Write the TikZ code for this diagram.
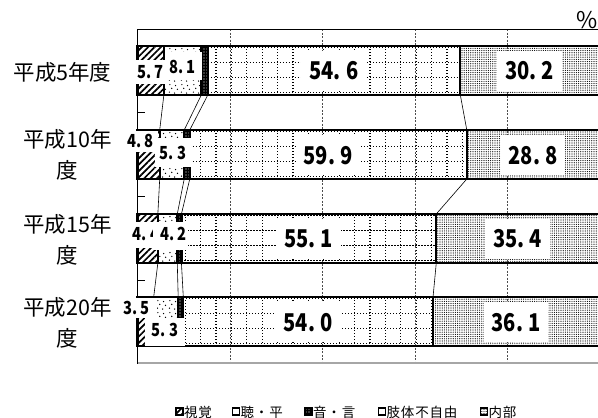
\documentclass[tikz,border=0pt]{standalone}
\usepackage{fontspec}
\setmainfont{Noto Sans CJK JP}
\newfontfamily\numfont[FakeStretch=0.82]{Noto Sans CJK JP}
\usetikzlibrary{patterns,patterns.meta}

\tikzdeclarepattern{
  name=sparsedots, type=uncolored,
  bottom left={(0pt,0pt)}, top right={(12pt,12pt)}, tile size={(12pt,12pt)},
  code={
    \fill (1.5pt,2pt) circle (0.75pt);
    \fill (7pt,1pt) circle (0.75pt);
    \fill (4pt,6pt) circle (0.75pt);
    \fill (10pt,5pt) circle (0.75pt);
    \fill (2pt,10pt) circle (0.75pt);
    \fill (8pt,9pt) circle (0.75pt);
  }
}

\newcommand\pd{\rlap{.}\hphantom{0}}

\tikzset{
  barline/.style={line width=2.2pt, draw=black},
  hatchfill/.style={pattern={Lines[angle=45,distance=4.5pt,line width=1.7pt]}},
  onfill/.style={pattern={Dots[radius=0.6pt,distance=3pt]}, pattern color=white},
  naibufill/.style={pattern={Dots[radius=0.6pt,distance=2.2pt]}},
  dotline/.style={line width=1.2pt, dash pattern=on 1.2pt off 1.8pt, black},
  conn/.style={line width=0.6pt, black},
  gridln/.style={gray!60!black, line width=0.8pt, dash pattern=on 2pt off 1.5pt},
  biglab/.style={fill=white, inner xsep=8pt, inner ysep=0pt, minimum height=40pt,
    text height=18pt, text depth=0pt, font=\numfont\bfseries\fontsize{24.5}{24.5}\selectfont},
  smalltxt/.style={inner sep=0pt, text height=13pt, text depth=0pt,
    font=\numfont\bfseries\fontsize{18}{18}\selectfont},
  catlab/.style={inner sep=0pt, align=center, font=\fontsize{21.5}{31}\selectfont},
  legtxt/.style={anchor=west, inner sep=0pt,
    font=\addfontfeature{LetterSpace=6}\fontsize{13.5}{13.5}\selectfont},
  legbox/.style={draw=black, line width=1.4pt},
}

\begin{document}
\begin{tikzpicture}[x=1pt,y=-1pt]
\useasboundingbox (0,0) rectangle (598,418);
\clip (0,0) rectangle (598,418);

% plot frame and grid
\foreach \gx in {230,322.5,415,507.5}
  \draw[gridln] (\gx,29) -- (\gx,363);
\draw[black, line width=0.8pt] (137.5,29) -- (600,29);
\draw[gray!70, line width=1.6pt] (137.5,363) -- (600,363);
\draw[black, line width=1.4pt] (137.5,29) -- (137.5,363.8);
\foreach \ty in {112.75,196.5,280}
  \draw[black, line width=1pt] (137.5,\ty) -- (145,\ty);

% bars
\foreach \i/\yt/\a/\b/\c/\d in {1/46/5.7/13.8/15.2/69.8, 2/130/4.8/10.1/11.3/71.2,
                                3/214/4.4/8.6/9.5/64.6, 4/297/3.5/8.8/9.9/63.9}{
  \pgfmathsetmacro\xa{137.5+4.625*\a}
  \pgfmathsetmacro\xb{137.5+4.625*\b}
  \pgfmathsetmacro\xc{137.5+4.625*\c}
  \pgfmathsetmacro\xd{137.5+4.625*\d}
  \pgfmathsetmacro\yb{\yt+49}
  \draw[barline, hatchfill] (137.5,\yt) rectangle (\xa,\yb);
  \draw[barline, pattern=sparsedots] (\xa,\yt) rectangle (\xb,\yb);
  \fill[black] (\xb,\yt) rectangle (\xc,\yb);
  \fill[onfill] (\xb,\yt) rectangle (\xc,\yb);
  \draw[barline] (\xb,\yt) rectangle (\xc,\yb);
  \begin{scope}
    \clip (\xc,\yt) rectangle (\xd,\yb);
    \foreach \gx in {139,154.4,...,600}
      \draw[dotline] (\gx,\yt) -- (\gx,\yb);
    \foreach \gy in {1.5,16.5,31.5,46.5}
      \draw[dotline] (\xc,{\yt+\gy}) -- (\xd,{\yt+\gy});
  \end{scope}
  \draw[barline] (\xc,\yt) rectangle (\xd,\yb);
  \draw[barline, naibufill] (\xd,\yt) rectangle (601,\yb);
  \coordinate (t\i-1) at (\xa,\yt); \coordinate (b\i-1) at (\xa,\yb);
  \coordinate (t\i-2) at (\xb,\yt); \coordinate (b\i-2) at (\xb,\yb);
  \coordinate (t\i-3) at (\xc,\yt); \coordinate (b\i-3) at (\xc,\yb);
  \coordinate (t\i-4) at (\xd,\yt); \coordinate (b\i-4) at (\xd,\yb);
}

% series lines
\foreach \i/\j in {1/2,2/3,3/4}
  \foreach \k in {1,2,3,4}
    \draw[conn] (b\i-\k) -- (t\j-\k);

% small labels
\fill[white] (132,60) rectangle (167,84);
\node[smalltxt] (s1a) at (150.5,71.5) {5\pd7};
\fill[white] (165,52) rectangle (201.5,80);
\node[smalltxt] (s1b) at (182.5,66.5) {8\pd1};

\fill[white] (124,130.5) rectangle (158,152);
\node[smalltxt] (s2a) at (140.5,141) {4\pd8};
\fill[white] (155,138) rectangle (192,167);
\node[smalltxt] (s2b) at (173,152.5) {5\pd3};

\fill[white] (128,222) rectangle (160,248);
\node[smalltxt] (s3a) at (146,233.5) {4\pd4};
\fill[white] (153,222) rectangle (188,250);
\node[smalltxt] (s3b) at (173.5,233.5) {4\pd2};

\fill[white] (120,298) rectangle (157,318);
\node[smalltxt] (s4a) at (136.5,307.5) {3\pd5};
\fill[white] (145,318) rectangle (185,345.8);
\node[smalltxt] (s4b) at (165,330) {5\pd3};

% big labels
\node[biglab] (l1d) at (333.9,70.5) {54\pd6};
\node[biglab] (l1e) at (529.7,70.5) {30\pd2};
\node[biglab] (l2d) at (328.1,155) {59\pd9};
\node[biglab] (l2e) at (533,155) {28\pd8};
\node[biglab] (l3d) at (308.7,238.5) {55\pd1};
\node[biglab] (l3e) at (517.7,238.5) {35\pd4};
\node[biglab] (l4d) at (308,322) {54\pd0};
\node[biglab] (l4e) at (516,322) {36\pd1};

% category labels
\node[catlab] (c1) at (62.5,72) {平成5年度};
\node[catlab] (c2) at (67.5,154.5) {平成10年\\度};
\node[catlab] (c3) at (67.5,240) {平成15年\\度};
\node[catlab] (c4) at (67.5,323) {平成20年\\度};

% percent
\node[inner sep=0pt, anchor=south east, font=\fontsize{23}{23}\selectfont] (pct) at (598,28.5) {\%};

% legend
\draw[legbox, hatchfill] (176,408) rectangle (183,415);
\node[legtxt] (g1) at (184,412) {視覚};
\draw[legbox, fill=white] (232.5,408) rectangle (239.5,415);
\node[legtxt] (g2) at (240.5,412) {聴・平};
\fill[black] (305,408) rectangle (312,415);
\draw[legbox, onfill] (305,408) rectangle (312,415);
\node[legtxt] (g3) at (313,412) {音・言};
\draw[legbox, fill=white] (378.5,408) rectangle (385.5,415);
\node[legtxt] (g4) at (386.5,412) {肢体不自由};
\draw[legbox, naibufill] (480.5,408) rectangle (487.5,415);
\node[legtxt] (g5) at (488.5,412) {内部};
\end{tikzpicture}
\end{document}
